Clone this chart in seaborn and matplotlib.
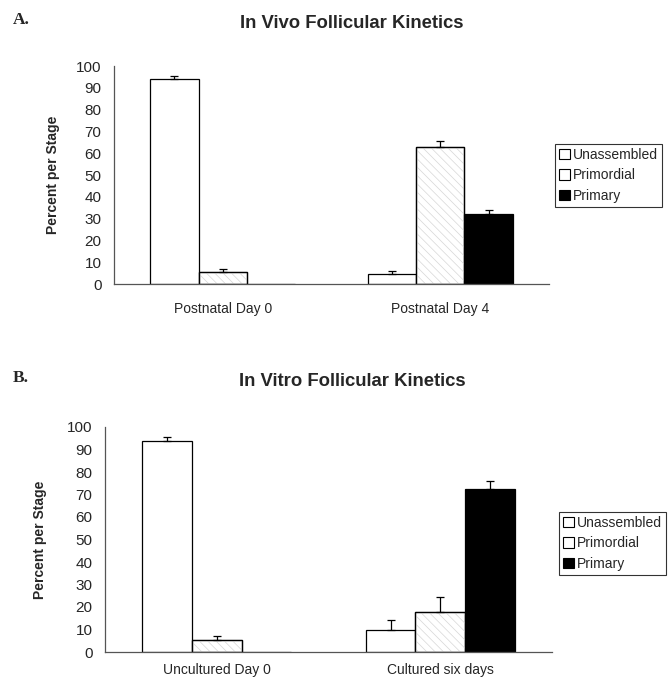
import matplotlib

matplotlib.use("Agg")
import matplotlib.pyplot as plt
import numpy as np
import pandas as pd
import seaborn as sns
from matplotlib.patches import Patch, Rectangle

STAGES = ["Unassembled", "Primordial", "Primary"]
STAGE_COLORS = ["#ffffff", "#ffffff", "#000000"]

# panel A: in vivo
VIVO_DAYS = ["Postnatal Day 0", "Postnatal Day 4"]
vivo_unassembled = [94.0, 4.5]
vivo_primordial = [5.5, 63.0]
vivo_primary = [0.2, 32.0]
vivo_unassembled_err = [1.5, 1.5]
vivo_primordial_err = [1.5, 2.5]
vivo_primary_err = [0.0, 1.8]

# panel B: in vitro
VITRO_DAYS = ["Uncultured Day 0", "Cultured six days"]
vitro_unassembled = [94.0, 10.0]
vitro_primordial = [5.5, 18.0]
vitro_primary = [0.2, 72.5]
vitro_unassembled_err = [1.5, 4.4]
vitro_primordial_err = [1.5, 6.5]
vitro_primary_err = [0.0, 3.5]

Y_TICKS = list(range(0, 101, 10))


def make_frame(days, unassembled, primordial, primary):
    rows = []
    for stage, values in zip(STAGES, [unassembled, primordial, primary]):
        for day, value in zip(days, values):
            rows.append({"Day": day, "Stage": stage, "Percent": value})
    return pd.DataFrame(rows)


def draw_panel(fig, rect, days, values, errors, title, letter, title_y, letter_y,
               legend_xy, ylabel_x, label_pad):
    ax = fig.add_axes(rect)
    df = make_frame(days, *values)
    sns.barplot(
        data=df,
        x="Day",
        y="Percent",
        hue="Stage",
        hue_order=STAGES,
        palette=STAGE_COLORS,
        width=0.667,
        edgecolor="black",
        linewidth=0.9,
        errorbar=None,
        legend=False,
        ax=ax,
    )

    # faint diagonal hatching on the primordial bars, plus one-sided error bars
    bar_containers = list(ax.containers)
    for stage_idx, container in enumerate(bar_containers):
        centers = np.array([p.get_x() + p.get_width() / 2 for p in container.patches])
        heights = np.array([p.get_height() for p in container.patches])
        if STAGES[stage_idx] == "Primordial":
            for p in container.patches:
                z = p.get_zorder()
                ax.add_patch(Rectangle((p.get_x(), 0), p.get_width(), p.get_height(),
                                       facecolor="none", edgecolor="#d6d6d6", hatch="\\\\\\\\",
                                       linewidth=0, zorder=z + 0.1))
                ax.add_patch(Rectangle((p.get_x(), 0), p.get_width(), p.get_height(),
                                       facecolor="none", edgecolor="black",
                                       linewidth=0.9, zorder=z + 0.2))
        errs = np.array(errors[stage_idx])
        mask = errs > 0
        ax.errorbar(
            centers[mask],
            heights[mask],
            yerr=[np.zeros(mask.sum()), errs[mask]],
            fmt="none",
            ecolor="black",
            elinewidth=0.9,
            capsize=3,
            capthick=0.9,
            zorder=5,
        )

    ax.set_xlim(-0.5, 1.5)
    ax.set_ylim(0, 100)
    ax.set_yticks(Y_TICKS)
    ax.set_xticks([-0.5, 0.5, 1.5])
    ax.set_xticklabels([])
    ax.set_xticks([0, 1], minor=True)
    ax.set_xticklabels(days, minor=True)
    ax.tick_params(axis="x", which="major", direction="out", length=4, width=0.9, color="#555555")
    ax.tick_params(axis="x", which="minor", length=0, pad=label_pad, labelsize=10)
    ax.tick_params(axis="y", direction="out", length=4, width=0.9, color="#555555", pad=5, labelsize=11)
    ax.set_xlabel("")
    ax.set_ylabel("Percent per Stage", fontsize=10, fontweight="bold")
    ax.yaxis.set_label_coords(ylabel_x, 0.5)
    sns.despine(ax=ax)
    for side in ["left", "bottom"]:
        ax.spines[side].set_color("#555555")
        ax.spines[side].set_linewidth(0.9)
        ax.spines[side].set_zorder(6)

    fig.text(0.527, title_y, title, ha="center", va="center", fontsize=13.3, fontweight="bold")
    fig.text(0.019, letter_y, letter, ha="left", va="center", fontsize=12.5,
             fontweight="bold", family="Liberation Serif")

    handles = [Patch(facecolor=c, edgecolor="black", linewidth=0.8) for c in STAGE_COLORS]
    leg = fig.legend(
        handles,
        STAGES,
        loc="upper left",
        bbox_to_anchor=legend_xy,
        bbox_transform=fig.transFigure,
        fontsize=10,
        frameon=True,
        fancybox=False,
        borderaxespad=0,
        borderpad=0.3,
        labelspacing=0.45,
        handlelength=0.75,
        handleheight=0.75,
        handletextpad=0.25,
    )
    leg.get_frame().set_edgecolor("black")
    leg.get_frame().set_linewidth(0.8)
    return ax


def main() -> None:
    sns.set_theme(style="white")
    plt.rcParams["font.family"] = ["Liberation Sans", "DejaVu Sans"]
    plt.rcParams["hatch.linewidth"] = 0.5

    fig = plt.figure(figsize=(6.68, 6.81), dpi=100)
    W, H = 668, 681

    draw_panel(
        fig,
        [114 / W, 1 - 284 / H, (549 - 114) / W, (284 - 66) / H],
        VIVO_DAYS,
        [vivo_unassembled, vivo_primordial, vivo_primary],
        [vivo_unassembled_err, vivo_primordial_err, vivo_primary_err],
        "In Vivo Follicular Kinetics",
        "A.",
        1 - 24 / H,
        1 - 20 / H,
        (555 / W, 1 - 144 / H),
        -0.125,
        13,
    )
    draw_panel(
        fig,
        [105 / W, 1 - 652 / H, (552 - 105) / W, (652 - 427) / H],
        VITRO_DAYS,
        [vitro_unassembled, vitro_primordial, vitro_primary],
        [vitro_unassembled_err, vitro_primordial_err, vitro_primary_err],
        "In Vitro Follicular Kinetics",
        "B.",
        1 - 382 / H,
        1 - 378 / H,
        (559 / W, 1 - 512 / H),
        -0.13,
        8,
    )

    fig.savefig("out.png", dpi=100)
    plt.close(fig)


if __name__ == "__main__":
    main()
